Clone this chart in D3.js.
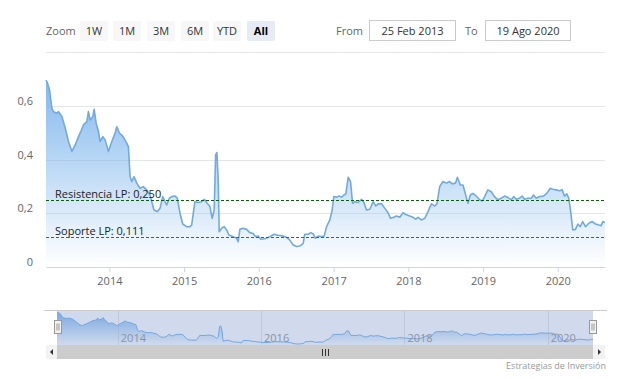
<!DOCTYPE html>
<html>
<head>
<meta charset="utf-8">
<script src="https://cdn.jsdelivr.net/npm/d3@7/dist/d3.min.js"></script>
<style>
body { margin: 0; background: #fff; }
svg { font-family: "Open Sans", sans-serif; }
</style>
</head>
<body>
<script>
// Data: time as decimal year, price
const yearFrac = [
  2013.151, 2013.170, 2013.198, 2013.230, 2013.252, 2013.297, 2013.318, 2013.364, 2013.408, 2013.452,
  2013.498, 2013.542, 2013.586, 2013.618, 2013.653, 2013.698, 2013.719, 2013.742, 2013.778, 2013.796,
  2013.822, 2013.853, 2013.876, 2013.912, 2013.943, 2013.987, 2014.032, 2014.076, 2014.099, 2014.134,
  2014.166, 2014.196, 2014.233, 2014.254, 2014.277, 2014.299, 2014.330, 2014.366, 2014.410, 2014.454,
  2014.500, 2014.544, 2014.567, 2014.597, 2014.641, 2014.678, 2014.714, 2014.744, 2014.767, 2014.802,
  2014.834, 2014.878, 2014.909, 2014.945, 2014.981, 2015.034, 2015.078, 2015.101, 2015.145, 2015.189,
  2015.235, 2015.270, 2015.302, 2015.346, 2015.376, 2015.403, 2015.422, 2015.439, 2015.457, 2015.470,
  2015.502, 2015.537, 2015.569, 2015.600, 2015.657, 2015.703, 2015.724, 2015.747, 2015.791, 2015.836,
  2015.880, 2015.924, 2015.956, 2015.991, 2016.027, 2016.081, 2016.148, 2016.205, 2016.258, 2016.325,
  2016.371, 2016.415, 2016.459, 2016.504, 2016.548, 2016.593, 2016.615, 2016.659, 2016.695, 2016.726,
  2016.758, 2016.793, 2016.838, 2016.873, 2016.905, 2016.949, 2016.980, 2017.002, 2017.039, 2017.074,
  2017.106, 2017.136, 2017.163, 2017.194, 2017.226, 2017.253, 2017.283, 2017.328, 2017.373, 2017.404,
  2017.440, 2017.484, 2017.528, 2017.564, 2017.595, 2017.640, 2017.684, 2017.728, 2017.761, 2017.805,
  2017.841, 2017.885, 2017.929, 2017.974, 2018.018, 2018.063, 2018.098, 2018.129, 2018.175, 2018.219,
  2018.263, 2018.308, 2018.353, 2018.383, 2018.419, 2018.463, 2018.509, 2018.553, 2018.589, 2018.633,
  2018.656, 2018.696, 2018.731, 2018.767, 2018.798, 2018.830, 2018.864, 2018.910, 2018.954, 2018.990,
  2019.021, 2019.065, 2019.110, 2019.154, 2019.198, 2019.244, 2019.288, 2019.332, 2019.378, 2019.412,
  2019.444, 2019.488, 2019.525, 2019.555, 2019.599, 2019.645, 2019.676, 2019.712, 2019.756, 2019.809,
  2019.853, 2019.899, 2019.934, 2019.978, 2020.023, 2020.059, 2020.090, 2020.121, 2020.147, 2020.170,
  2020.201, 2020.237, 2020.268, 2020.300, 2020.334, 2020.370, 2020.415, 2020.460, 2020.504, 2020.548,
  2020.580, 2020.602, 2020.631
];
const prices = [
  0.695, 0.685, 0.66, 0.59, 0.578, 0.572, 0.578, 0.56, 0.517, 0.467,
  0.43, 0.454, 0.485, 0.504, 0.529, 0.541, 0.578, 0.547, 0.559, 0.587,
  0.536, 0.504, 0.467, 0.485, 0.473, 0.43, 0.467, 0.498, 0.522, 0.498,
  0.491, 0.479, 0.46, 0.448, 0.336, 0.318, 0.336, 0.312, 0.293, 0.299,
  0.287, 0.268, 0.243, 0.212, 0.206, 0.219, 0.262, 0.243, 0.231, 0.256,
  0.262, 0.264, 0.256, 0.2, 0.16, 0.15, 0.15, 0.156, 0.243, 0.24,
  0.243, 0.252, 0.24, 0.225, 0.181, 0.212, 0.417, 0.426, 0.324, 0.131,
  0.144, 0.15, 0.138, 0.119, 0.113, 0.107, 0.094, 0.14, 0.144, 0.14,
  0.128, 0.125, 0.113, 0.115, 0.103, 0.105, 0.113, 0.122, 0.118, 0.115,
  0.11, 0.1, 0.082, 0.076, 0.078, 0.088, 0.122, 0.122, 0.128, 0.123,
  0.107, 0.115, 0.113, 0.115, 0.15, 0.175, 0.212, 0.262, 0.26, 0.264,
  0.26, 0.268, 0.272, 0.334, 0.318, 0.237, 0.243, 0.24, 0.252, 0.24,
  0.212, 0.215, 0.243, 0.227, 0.235, 0.235, 0.219, 0.202, 0.181, 0.185,
  0.19, 0.185, 0.202, 0.194, 0.19, 0.185, 0.178, 0.185, 0.175, 0.181,
  0.206, 0.235, 0.227, 0.235, 0.299, 0.318, 0.312, 0.318, 0.309, 0.313,
  0.334, 0.305, 0.305, 0.268, 0.237, 0.268, 0.274, 0.264, 0.25, 0.246,
  0.262, 0.287, 0.28, 0.262, 0.25, 0.256, 0.264, 0.259, 0.25, 0.262,
  0.252, 0.256, 0.264, 0.252, 0.256, 0.256, 0.268, 0.256, 0.262, 0.264,
  0.274, 0.293, 0.289, 0.287, 0.284, 0.287, 0.264, 0.272, 0.256, 0.212,
  0.138, 0.14, 0.16, 0.15, 0.169, 0.15, 0.163, 0.169, 0.16, 0.156,
  0.154, 0.169, 0.165
];

const yTicks = [0, 0.2, 0.4, 0.6, 0.8];
const yLabelTicks = [0, 0.2, 0.4, 0.6];
const navYears = [2014, 2016, 2018, 2020];
const rangeButtons = ["1W", "1M", "3M", "6M", "YTD", "All"];
const selectedButton = "All";
const fromText = "25 Feb 2013";
const toText = "19 Ago 2020";
const plotLines = [
  {label: "Resistencia LP: 0,250", value: 0.25, color: "#0b5e0b"},
  {label: "Soporte LP: 0,111", value: 0.111, color: "#c42a2a"}
];
const credits = "Estrategias de Inversión";

// decimal year -> UTC date
function toDate(t) {
  var yr = Math.floor(t);
  var a = Date.UTC(yr, 0, 1), b = Date.UTC(yr + 1, 0, 1);
  return new Date(a + (t - yr) * (b - a));
}

var data = yearFrac.map((t, i) => ({date: toDate(t), value: prices[i]}));

var W = 622, H = 379;
var plot = {left: 46, right: 605, top: 52, bottom: 267};
var nav = {left: 57, right: 593, top: 310, bottom: 345};

var locale = d3.formatLocale({decimal: ",", thousands: ".", grouping: [3], currency: ["", "€"]});
var fmt = locale.format("~g");

var svg = d3.select("body").append("svg")
    .attr("width", W)
    .attr("height", H);

var defs = svg.append("defs");
var grad = defs.append("linearGradient")
    .attr("id", "areaGrad")
    .attr("x1", 0).attr("y1", 0).attr("x2", 0).attr("y2", 1);
grad.append("stop").attr("offset", 0).attr("stop-color", "#7cb5ec").attr("stop-opacity", 0.95);
grad.append("stop").attr("offset", 1).attr("stop-color", "#7cb5ec").attr("stop-opacity", 0);

// Scales
var x = d3.scaleUtc()
    .domain(d3.extent(data, d => d.date))
    .range([plot.left, plot.right]);
var y = d3.scaleLinear()
    .domain([0, 0.8])
    .range([plot.bottom, plot.top]);

// Range selector
svg.append("text")
    .attr("x", 46).attr("y", 35)
    .attr("fill", "#666").attr("font-size", 11)
    .text("Zoom");

var btnX = [80, 113, 147, 181, 213, 247];
var btn = svg.selectAll(".btn").data(rangeButtons)
  .enter().append("g")
    .attr("class", "btn")
    .attr("transform", (d, i) => `translate(${btnX[i]},21)`);
btn.append("rect")
    .attr("width", 28).attr("height", 20).attr("rx", 2)
    .attr("fill", d => d == selectedButton ? "#e6ebf5" : "#f7f7f7");
btn.append("text")
    .attr("x", 14).attr("y", 14)
    .attr("text-anchor", "middle")
    .attr("font-size", 11)
    .attr("font-weight", d => d == selectedButton ? "bold" : "normal")
    .attr("fill", d => d == selectedButton ? "#000" : "#333")
    .text(d => d);

var inputs = [
  {label: "From", lx: 336, bx: 369.5, bw: 86, text: fromText},
  {label: "To", lx: 465, bx: 485.5, bw: 85, text: toText}
];
inputs.forEach(inp => {
  svg.append("text").attr("x", inp.lx).attr("y", 35)
      .attr("fill", "#666").attr("font-size", 11).text(inp.label);
  svg.append("rect").attr("x", inp.bx).attr("y", 20.5)
      .attr("width", inp.bw).attr("height", 20)
      .attr("fill", "#fff").attr("stroke", "#ccc");
  svg.append("text").attr("x", inp.bx + inp.bw / 2).attr("y", 35)
      .attr("text-anchor", "middle").attr("fill", "#333").attr("font-size", 11)
      .text(inp.text);
});

// Gridlines
svg.append("g").selectAll("line").data(yTicks.filter(v => v > 0))
  .enter().append("line")
    .attr("x1", plot.left).attr("x2", plot.right)
    .attr("y1", d => Math.round(y(d)) + 0.5).attr("y2", d => Math.round(y(d)) + 0.5)
    .attr("stroke", "#e6e6e6");

// Y labels
svg.append("g").selectAll("text").data(yLabelTicks)
  .enter().append("text")
    .attr("x", 33).attr("y", d => y(d) - 1)
    .attr("text-anchor", "end")
    .attr("fill", "#666").attr("font-size", 11)
    .text(d => fmt(d));

// Area + line
svg.append("path").datum(data)
    .attr("fill", "url(#areaGrad)")
    .attr("d", d3.area().x(d => x(d.date)).y0(plot.bottom).y1(d => y(d.value)));

svg.append("path").datum(data)
    .attr("fill", "none")
    .attr("stroke", "#72aade")
    .attr("stroke-width", 1.6)
    .attr("stroke-linejoin", "round")
    .attr("d", d3.line().x(d => x(d.date)).y(d => y(d.value)));

// X axis
var xAxis = d3.axisBottom(x)
    .ticks(d3.utcYear.every(1))
    .tickFormat(d3.utcFormat("%Y"))
    .tickSize(5).tickSizeOuter(0);
var gx = svg.append("g")
    .attr("transform", `translate(0,${plot.bottom})`)
    .call(xAxis);
gx.select(".domain").attr("stroke", "#ccd6eb");
gx.selectAll(".tick line").attr("stroke", "#ccd6eb");
gx.selectAll(".tick text")
    .attr("fill", "#666").attr("font-size", 11)
    .attr("font-family", "Open Sans, sans-serif")
    .attr("dy", "0.71em").attr("y", 10);

// Plot lines
plotLines.forEach(p => {
  var py = Math.round(y(p.value)) + 0.5;
  svg.append("line")
      .attr("x1", plot.left).attr("x2", plot.right)
      .attr("y1", py).attr("y2", py)
      .attr("stroke", p.color).attr("stroke-dasharray", "3,2");
  svg.append("text")
      .attr("x", 55).attr("y", py - 3)
      .attr("fill", "#222").attr("font-size", 11)
      .text(p.label);
});

// Navigator
var nx = d3.scaleUtc()
    .domain(x.domain())
    .range([nav.left, nav.right]);
var ny = d3.scaleLinear()
    .domain(d3.extent(data, d => d.value))
    .range([nav.bottom - 1, nav.top + 2]);

var navG = svg.append("g");
navG.selectAll(".navgrid").data(navYears)
  .enter().append("line")
    .attr("x1", d => Math.round(nx(new Date(Date.UTC(d, 0, 1)))) + 0.5)
    .attr("x2", d => Math.round(nx(new Date(Date.UTC(d, 0, 1)))) + 0.5)
    .attr("y1", nav.top).attr("y2", nav.bottom)
    .attr("stroke", "#e6e6e6");

navG.append("path").datum(data)
    .attr("fill", "url(#areaGrad)")
    .attr("d", d3.area().x(d => nx(d.date)).y0(nav.bottom).y1(d => ny(d.value)));
navG.append("path").datum(data)
    .attr("fill", "none").attr("stroke", "#7cb5ec").attr("stroke-width", 1)
    .attr("d", d3.line().x(d => nx(d.date)).y(d => ny(d.value)));

navG.selectAll(".navlab").data(navYears)
  .enter().append("text")
    .attr("x", d => nx(new Date(Date.UTC(d, 0, 1))) + 3)
    .attr("y", 342)
    .attr("fill", "#999").attr("font-size", 11)
    .text(d => d);

// selected zone mask + outline
navG.append("rect")
    .attr("x", nav.left).attr("y", nav.top)
    .attr("width", nav.right - nav.left).attr("height", nav.bottom - nav.top)
    .attr("fill", "rgba(102,133,194,0.3)");
navG.append("line")
    .attr("x1", 44).attr("x2", plot.right + 2)
    .attr("y1", nav.top + 0.5).attr("y2", nav.top + 0.5)
    .attr("stroke", "#cccccc");

// handles
[nav.left + 1, nav.right].forEach(hx => {
  var h = navG.append("g").attr("transform", `translate(${Math.round(hx) - 3.5},320.5)`);
  h.append("rect").attr("width", 7).attr("height", 13)
      .attr("fill", "#f2f2f2").attr("stroke", "#999");
  h.append("path").attr("d", "M2.5,3 V10 M4.5,3 V10").attr("stroke", "#999");
});

// Scrollbar
var sb = svg.append("g");
sb.append("rect").attr("x", 46).attr("y", 345).attr("width", plot.right - 46).attr("height", 14)
    .attr("fill", "#f2f2f2");
sb.append("rect").attr("x", nav.left).attr("y", 345).attr("width", nav.right - nav.left).attr("height", 14)
    .attr("fill", "#cccccc");
sb.append("path").attr("d", "M53,349 L50,352 L53,355 Z").attr("fill", "#333");
sb.append("path").attr("d", "M598,349 L601,352 L598,355 Z").attr("fill", "#333");
var mid = Math.round((nav.left + nav.right) / 2);
sb.append("path")
    .attr("d", `M${mid - 2.5},349 V356 M${mid + 0.5},349 V356 M${mid + 3.5},349 V356`)
    .attr("stroke", "#333");

// Credits
svg.append("text")
    .attr("x", 606).attr("y", 369)
    .attr("text-anchor", "end")
    .attr("fill", "#999").attr("font-size", 9)
    .text(credits);
</script>
</body>
</html>
